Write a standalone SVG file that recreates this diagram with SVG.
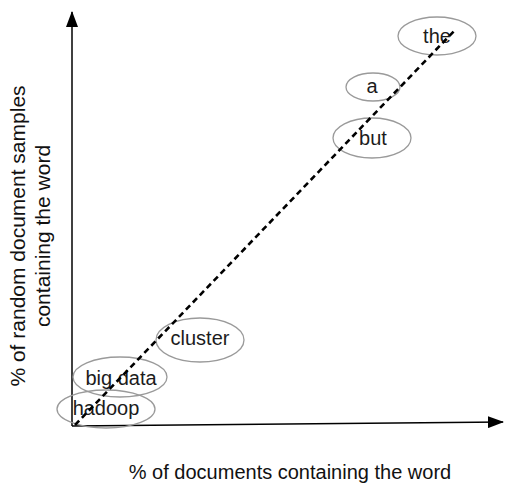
<svg xmlns="http://www.w3.org/2000/svg" width="506" height="485" viewBox="0 0 506 485">
  <style>
    .word ellipse { fill: none; stroke: #9a9a9a; stroke-width: 1.3; }
    .word text { font-family: "Liberation Sans", Arial, sans-serif; font-size: 20px; fill: #1c1c1c; text-anchor: middle; }
    .axis { stroke: #000; stroke-width: 1.5; fill: none; }
    .label { font-family: "Liberation Sans", Arial, sans-serif; fill: #111; text-anchor: middle; }
  </style>
  <defs>
    <marker id="head" viewBox="0 0 16 12" refX="15" refY="6" markerWidth="16" markerHeight="12" markerUnits="userSpaceOnUse" orient="auto">
      <path d="M0,0 L16,6 L0,12 Z" fill="#000"/>
    </marker>
  </defs>
  <rect width="506" height="485" fill="#fff"/>

  <!-- axes -->
  <g id="axes">
    <line class="axis" x1="72" y1="426" x2="72" y2="12" marker-end="url(#head)"/>
    <line class="axis" x1="72" y1="426" x2="503" y2="422" marker-end="url(#head)"/>
  </g>

  <!-- word nodes -->
  <g id="node-hadoop" class="word">
    <ellipse cx="106" cy="409" rx="49" ry="19"/>
    <text x="106" y="415">hadoop</text>
  </g>
  <g id="node-bigdata" class="word">
    <ellipse cx="120" cy="377" rx="47" ry="20"/>
    <text x="121" y="385">big data</text>
  </g>
  <g id="node-cluster" class="word">
    <ellipse cx="200" cy="340" rx="44" ry="22"/>
    <text x="200" y="345">cluster</text>
  </g>
  <g id="node-but" class="word">
    <ellipse cx="372" cy="138" rx="39" ry="20"/>
    <text x="373" y="145">but</text>
  </g>
  <g id="node-a" class="word">
    <ellipse cx="373" cy="87" rx="27" ry="14"/>
    <text x="372" y="93">a</text>
  </g>
  <g id="node-the" class="word">
    <ellipse cx="437" cy="36" rx="39" ry="19"/>
    <text x="437" y="43">the</text>
  </g>

  <!-- trend line -->
  <g id="connectors">
    <line x1="75" y1="425" x2="456" y2="29" stroke="#000" stroke-width="2.6" stroke-dasharray="6 4"/>
  </g>

  <!-- axis titles -->
  <text class="label" x="290" y="479" font-size="20">% of documents containing the word</text>
  <g transform="translate(0,236) rotate(-90)">
    <text class="label" x="0" y="25" font-size="21">% of random document samples</text>
    <text class="label" x="0" y="50" font-size="21">containing the word</text>
  </g>
</svg>
